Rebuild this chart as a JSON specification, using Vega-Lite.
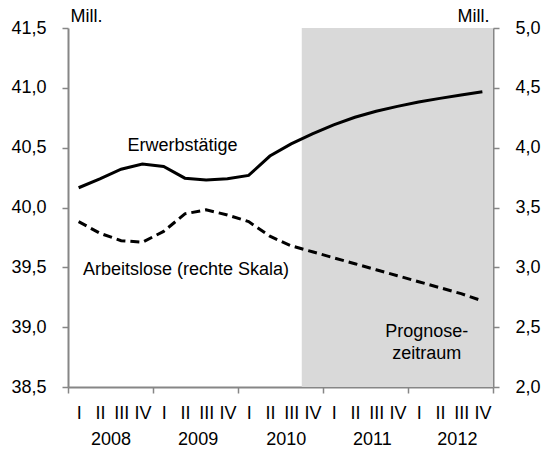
{
  "$schema": "https://vega.github.io/schema/vega-lite/v6.json",
  "width": 425,
  "height": 359,
  "autosize": {"type": "none"},
  "padding": {"left": 68, "top": 28, "right": 48, "bottom": 74},
  "background": "white",
  "config": {
    "view": {"stroke": null},
    "font": "Liberation Sans",
    "axis": {
      "labelFont": "Liberation Sans",
      "labelFontSize": 18,
      "labelColor": "#000",
      "domainColor": "#868686",
      "domainWidth": 2,
      "tickColor": "#868686",
      "tickWidth": 1.5,
      "grid": false,
      "titleFont": "Liberation Sans",
      "titleFontSize": 18,
      "titleFontWeight": "normal",
      "titleColor": "#000"
    }
  },
  "datasets": {
    "series": [
      {"q": 1, "erw": 40.165, "alo": 3.382},
      {"q": 2, "erw": 40.24, "alo": 3.285},
      {"q": 3, "erw": 40.32, "alo": 3.223},
      {"q": 4, "erw": 40.363, "alo": 3.21},
      {"q": 5, "erw": 40.343, "alo": 3.3},
      {"q": 6, "erw": 40.245, "alo": 3.447},
      {"q": 7, "erw": 40.229, "alo": 3.48},
      {"q": 8, "erw": 40.24, "alo": 3.438},
      {"q": 9, "erw": 40.268, "alo": 3.382},
      {"q": 10, "erw": 40.43, "alo": 3.26},
      {"q": 11, "erw": 40.532, "alo": 3.18},
      {"q": 12, "erw": 40.615, "alo": 3.13},
      {"q": 13, "erw": 40.69, "alo": 3.08},
      {"q": 14, "erw": 40.754, "alo": 3.03},
      {"q": 15, "erw": 40.804, "alo": 2.98},
      {"q": 16, "erw": 40.845, "alo": 2.93},
      {"q": 17, "erw": 40.882, "alo": 2.88},
      {"q": 18, "erw": 40.912, "alo": 2.83},
      {"q": 19, "erw": 40.94, "alo": 2.78},
      {"q": 20, "erw": 40.967, "alo": 2.72}
    ],
    "shade": [{"start": 11.5, "end": 20.5}],
    "notes": [
      {"label": "Erwerbstätige", "q": 5.89, "v": 40.518},
      {"label": "Arbeitslose (rechte Skala)", "q": 6.05, "v": 39.478},
      {"label": "Prognose-\nzeitraum", "q": 17.38, "v": 38.96}
    ]
  },
  "layer": [
    {
      "layer": [
        {
          "data": {"name": "shade"},
          "mark": {"type": "rect", "color": "#d9d9d9"},
          "encoding": {
            "x": {
              "field": "start",
              "type": "quantitative",
              "scale": {"domain": [0.5, 20.5], "nice": false, "zero": false},
              "title": null,
              "axis": {
                "orient": "bottom",
                "values": [0.5, 4.5, 8.5, 12.5, 16.5, 20.5],
                "labels": false,
                "ticks": true,
                "tickSize": 6,
                "domain": true,
                "title": null
              }
            },
            "x2": {"field": "end"}
          }
        },
        {
          "data": {"name": "series"},
          "mark": {"type": "line", "color": "#000", "strokeWidth": 3},
          "encoding": {
            "x": {"field": "q", "type": "quantitative", "title": null},
            "y": {
              "field": "erw",
              "type": "quantitative",
              "scale": {"domain": [38.5, 41.5], "nice": false, "zero": false},
              "axis": {
                "orient": "left",
                "values": [38.5, 39, 39.5, 40, 40.5, 41, 41.5],
                "tickSize": 6,
                "labelPadding": 16,
                "labelFlush": false,
                "labelExpr": "replace(format(datum.value, '.1f'), '.', ',')",
                "title": "Mill.",
                "titleAngle": 0,
                "titleAlign": "left",
                "titleBaseline": "alphabetic",
                "titleX": 2,
                "titleY": -7
              }
            }
          }
        },
        {
          "data": {"name": "notes"},
          "mark": {"type": "text", "fontSize": 18, "align": "center", "baseline": "middle", "lineBreak": "\n", "lineHeight": 22, "color": "#000"},
          "encoding": {
            "x": {"field": "q", "type": "quantitative", "title": null},
            "y": {"field": "v", "type": "quantitative"},
            "text": {"field": "label"}
          }
        }
      ]
    },
    {
      "data": {"name": "series"},
      "mark": {"type": "line", "color": "#000", "strokeWidth": 3, "strokeDash": [9, 5]},
      "encoding": {
        "x": {
          "field": "q",
          "type": "quantitative",
          "title": null,
          "axis": {
            "orient": "bottom",
            "values": [1, 2, 3, 4, 5, 6, 7, 8, 9, 10, 11, 12, 13, 14, 15, 16, 17, 18, 19, 20, 2.5, 6.6, 10.75, 14.8, 18.8],
            "domain": false,
            "ticks": false,
            "tickSize": 0,
            "labelPadding": 17,
            "labelBaseline": "top",
            "labelOverlap": false,
            "labelFlush": false,
            "labelLineHeight": 26,
            "labelExpr": "datum.value % 1 == 0 ? ['I','II','III','IV'][(datum.value - 1) % 4] : ['', '' + (2008 + floor(datum.value / 4))]",
            "title": null
          }
        },
        "y": {
          "field": "alo",
          "type": "quantitative",
          "scale": {"domain": [2, 5], "nice": false, "zero": false},
          "axis": {
            "orient": "right",
            "values": [2, 2.5, 3, 3.5, 4, 4.5, 5],
            "tickSize": 6,
            "labelPadding": 16,
            "labelFlush": false,
            "labelExpr": "replace(format(datum.value, '.1f'), '.', ',')",
            "title": "Mill.",
            "titleAngle": 0,
            "titleAlign": "right",
            "titleBaseline": "alphabetic",
            "titleX": -4,
            "titleY": -7
          }
        }
      }
    }
  ],
  "resolve": {"scale": {"y": "independent"}, "axis": {"x": "independent", "y": "independent"}}
}
